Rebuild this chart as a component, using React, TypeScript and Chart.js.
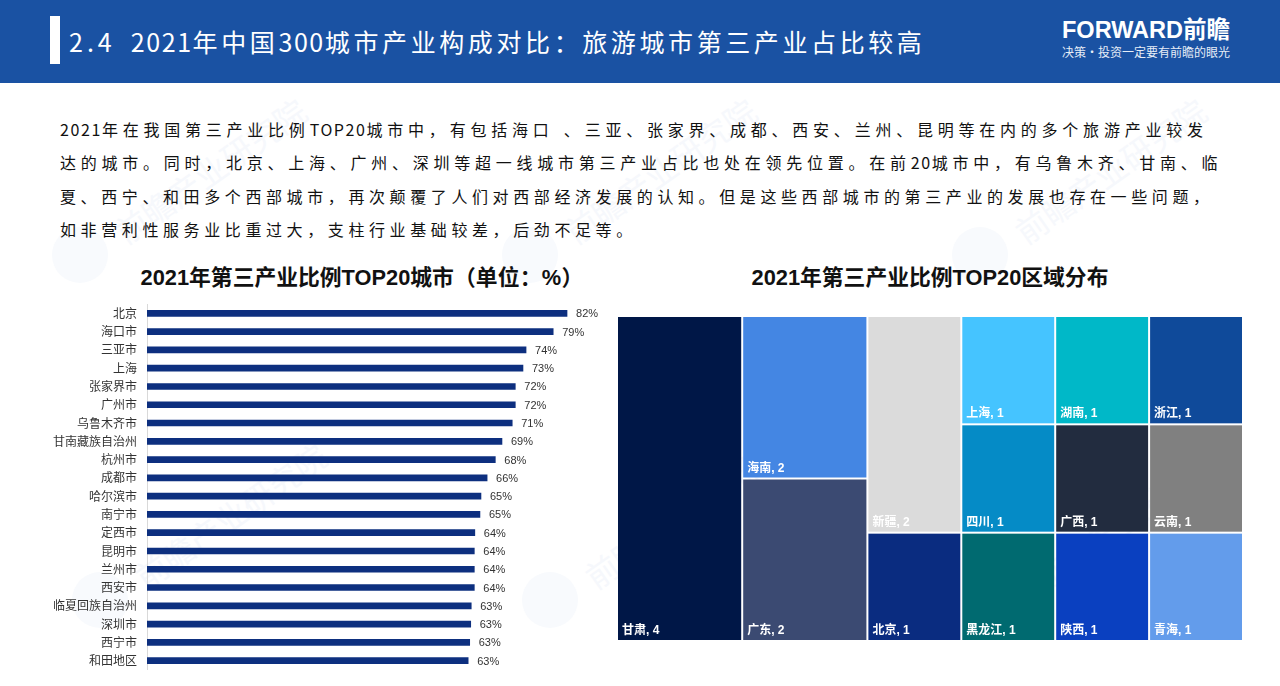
// App.tsx - 2021 tertiary industry share: top 20 cities bar + region treemap
import { useEffect, useRef } from 'react'
import { Chart, registerables } from 'chart.js'

Chart.register(...registerables)

const CJK = '"Noto Sans CJK SC", sans-serif'
const MIXED = '"Liberation Sans", "Noto Sans CJK SC", sans-serif'

const cities = [
  '北京', '海口市', '三亚市', '上海', '张家界市', '广州市', '乌鲁木齐市', '甘南藏族自治州', '杭州市', '成都市',
  '哈尔滨市', '南宁市', '定西市', '昆明市', '兰州市', '西安市', '临夏回族自治州', '深圳市', '西宁市', '和田地区',
]
const shares = [82, 79.3, 74, 73.4, 71.9, 71.9, 71.3, 69.3, 68, 66.4, 65.2, 65, 64, 63.9, 63.9, 63.9, 63.3, 63.2, 63, 62.7]

const regions = ['甘肃', '海南', '广东', '新疆', '北京', '上海', '四川', '黑龙江', '湖南', '广西', '陕西', '浙江', '云南', '青海']
const regionCounts = [4, 2, 2, 2, 1, 1, 1, 1, 1, 1, 1, 1, 1, 1]
const regionColors = [
  '#001747', '#4486e3', '#3b4a72', '#dbdbdb', '#0a2c80', '#45c4ff', '#058bc6',
  '#006a70', '#00b8c8', '#222c3f', '#0a40c0', '#0f4a9a', '#808080', '#639ceb',
]
// how many regions sit in each treemap column, left to right
const columnLengths = [1, 2, 2, 3, 3, 3]

const paragraph = [
  '2021年在我国第三产业比例TOP20城市中，有包括海口  、三亚、张家界、成都、西安、兰州、昆明等在内的多个旅游产业较发',
  '达的城市。同时，北京、上海、广州、深圳等超一线城市第三产业占比也处在领先位置。在前20城市中，有乌鲁木齐、甘南、临',
  '夏、西宁、和田多个西部城市，再次颠覆了人们对西部经济发展的认知。但是这些西部城市的第三产业的发展也存在一些问题，',
  '如非营利性服务业比重过大，支柱行业基础较差，后劲不足等。',
]
const paragraphTracking = [4.77, 4.75, 4.6, 4.6]

// latin runs need tighter tracking than the CJK glyphs
function spaced(text: string, cjk: number, latin: number) {
  return text.split(/([\x20-\x7e]+)/).map((run, i) => (
    <span key={i} style={{ letterSpacing: i % 2 ? latin : cjk }}>{run}</span>
  ))
}

const barLabels = {
  id: 'barLabels',
  afterDatasetsDraw(chart: any) {
    const { ctx } = chart
    ctx.save()
    ctx.font = '11px ' + MIXED
    ctx.fillStyle = '#333'
    ctx.textBaseline = 'middle'
    chart.getDatasetMeta(0).data.forEach((bar: any, i: number) => {
      ctx.fillText(Math.round(shares[i]) + '%', bar.x + 9, bar.y + 1)
    })
    ctx.restore()
  },
}

const treemapCells = {
  id: 'treemapCells',
  beforeDatasetsDraw(chart: any) {
    const { ctx, scales } = chart
    let index = 0
    let left = 0
    columnLengths.forEach((len) => {
      const counts = regionCounts.slice(index, index + len)
      const columnTotal = counts.reduce((sum, c) => sum + c, 0)
      let top = 0
      counts.forEach((count, j) => {
        const x0 = scales.x.getPixelForValue(left)
        const x1 = scales.x.getPixelForValue(left + columnTotal)
        const y0 = scales.y.getPixelForValue(top)
        const y1 = scales.y.getPixelForValue(top + count / columnTotal)
        ctx.fillStyle = regionColors[index + j]
        ctx.fillRect(x0 + 1, y0 + 1, x1 - x0 - 2, y1 - y0 - 2)
        ctx.font = 'bold 12px ' + MIXED
        ctx.fillStyle = '#fff'
        ctx.textBaseline = 'alphabetic'
        ctx.fillText(`${regions[index + j]}, ${count}`, x0 + 5, y1 - 7)
        top += count / columnTotal
      })
      left += columnTotal
      index += len
    })
  },
}

function CityBars() {
  const canvasRef = useRef<HTMLCanvasElement>(null)

  useEffect(() => {
    if (!canvasRef.current) return
    const chart = new Chart(canvasRef.current, {
      type: 'bar',
      data: {
        labels: cities,
        datasets: [{ data: shares, backgroundColor: '#0d2f7f', barThickness: 6 }],
      },
      options: {
        indexAxis: 'y',
        animation: false,
        responsive: false,
        layout: { padding: { top: 8, bottom: 11, right: 12 } },
        plugins: { legend: { display: false }, tooltip: { enabled: false } },
        scales: {
          x: { display: false, min: 0, max: 90 },
          y: {
            afterFit: (scale: any) => {
              scale.width = 147
            },
            grid: { display: false, drawTicks: false },
            border: { color: '#d9d9d9' },
            ticks: { autoSkip: false, padding: 10, color: '#333', font: { size: 12, family: CJK } },
          },
        },
      },
      plugins: [barLabels],
    })
    return () => chart.destroy()
  }, [])

  return <canvas ref={canvasRef} width={620} height={400} style={{ position: 'absolute', left: 0, top: 287 }} />
}

function RegionTreemap() {
  const canvasRef = useRef<HTMLCanvasElement>(null)

  useEffect(() => {
    if (!canvasRef.current) return
    const total = regionCounts.reduce((sum, c) => sum + c, 0)
    const chart = new Chart(canvasRef.current, {
      type: 'scatter',
      data: { datasets: [{ data: [] }] },
      options: {
        animation: false,
        responsive: false,
        layout: { padding: 0 },
        plugins: { legend: { display: false }, tooltip: { enabled: false } },
        scales: {
          x: { display: false, min: 0, max: total },
          y: { display: false, min: 0, max: 1, reverse: true },
        },
      },
      plugins: [treemapCells],
    })
    return () => chart.destroy()
  }, [])

  return <canvas ref={canvasRef} width={626} height={325} style={{ position: 'absolute', left: 617, top: 316 }} />
}

// faint brand mark repeated behind the page
const watermarks = [
  [80, 255], [530, 255], [980, 255], [100, 600], [550, 600], [1000, 600],
]

export default function App() {
  const heading: any = {
    position: 'absolute', fontFamily: MIXED, fontWeight: 700, fontSize: 21.8, color: '#111',
    whiteSpace: 'nowrap', lineHeight: '30px', top: 263, transform: 'translateX(-50%)',
  }
  return (
    <div style={{ position: 'fixed', left: 0, top: 0, width: 1280, height: 686, overflow: 'hidden', background: '#fff', fontFamily: CJK }}>
      {watermarks.map(([x, y], i) => (
        <div key={i}>
          <div style={{ position: 'absolute', left: x - 28, top: y - 28, width: 56, height: 56, borderRadius: '50%', background: '#f8fafd' }} />
          <div
            style={{
              position: 'absolute', left: x + 130, top: y - 85, fontSize: 32, color: '#f6f8fc', whiteSpace: 'nowrap',
              transform: 'translate(-50%,-50%) rotate(-35deg)',
            }}
          >
            前瞻产业研究院
          </div>
        </div>
      ))}

      <div style={{ position: 'absolute', left: 0, top: 0, width: 1280, height: 83, background: '#1a52a3' }} />
      <div style={{ position: 'absolute', left: 50, top: 16, width: 10, height: 48, background: '#fff' }} />
      <div style={{ position: 'absolute', left: 69, top: 22, color: '#fff', fontSize: 25, lineHeight: '38px', whiteSpace: 'pre' }}>
        <span style={{ letterSpacing: 4, marginRight: 15 }}>2.4</span>
        {spaced('2021年中国300城市产业构成对比：旅游城市第三产业占比较高', 3.6, 1.6)}
      </div>
      <div style={{ position: 'absolute', left: 1062, top: 17, color: '#fff', fontFamily: MIXED, fontWeight: 700, fontSize: 23.5, lineHeight: '26px', whiteSpace: 'nowrap' }}>
        FORWARD前瞻
      </div>
      <div style={{ position: 'absolute', left: 1062, top: 44, color: '#e6edf7', fontSize: 12, lineHeight: '16px', whiteSpace: 'nowrap' }}>
        决策·投资一定要有前瞻的眼光
      </div>

      {paragraph.map((line, i) => (
        <div
          key={i}
          style={{ position: 'absolute', left: 60, top: 116.5 + i * 33.5, fontSize: 16, lineHeight: '24px', color: '#111', whiteSpace: 'pre' }}
        >
          {spaced(line, paragraphTracking[i], 1.6)}
        </div>
      ))}

      <div style={{ ...heading, left: 362 }}>
        2021年第三产业比例TOP20城市<span style={{ letterSpacing: 0.2 }}>（单位：%）</span>
      </div>
      <div style={{ ...heading, left: 930 }}>2021年第三产业比例TOP20区域分布</div>

      <CityBars />
      <RegionTreemap />
    </div>
  )
}
